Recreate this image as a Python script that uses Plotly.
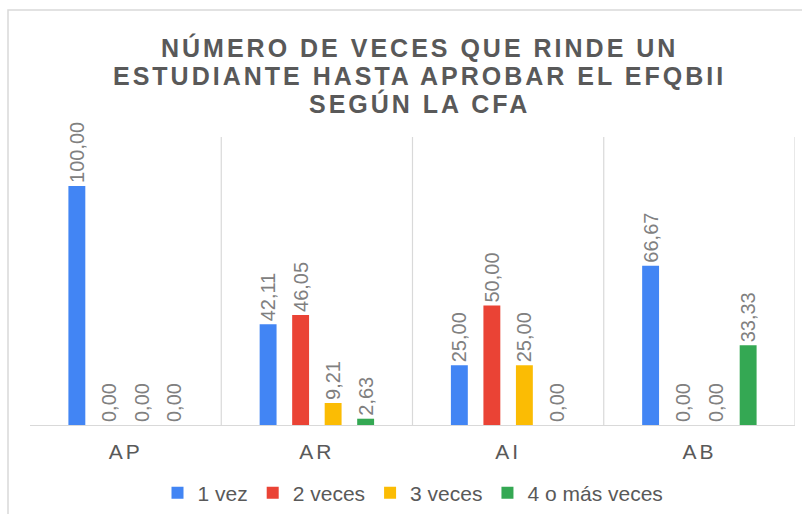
import plotly.graph_objects as go

categories = ["AP", "AR", "AI", "AB"]
series_names = ["1 vez", "2 veces", "3 veces", "4 o más veces"]
vals_1 = [100.00, 42.11, 25.00, 66.67]
vals_2 = [0.00, 46.05, 50.00, 0.00]
vals_3 = [0.00, 9.21, 25.00, 0.00]
vals_4 = [0.00, 2.63, 0.00, 33.33]
colors = ["#4285F4", "#EA4335", "#FBBC04", "#34A853"]
title_lines = ["NÚMERO DE VECES QUE RINDE UN", "ESTUDIANTE HASTA APROBAR EL EFQBII", "SEGÚN LA CFA"]

W, H = 802, 514
L, R, T, B = 30, 7, 137, 89
pw, ph = W - L - R, H - T - B
FONT = "Liberation Sans, Arial, sans-serif"

def px_x(x):
    return (x - L) / pw

def px_y(y):
    return (T + ph - y) / ph

fig = go.Figure()
for name, vals, col in zip(series_names, [vals_1, vals_2, vals_3, vals_4], colors):
    fig.add_trace(go.Bar(
        x=categories, y=vals, name=name, marker_color=col, marker_line_width=0,
        text=[f"{v:.2f}".replace(".", ",") for v in vals],
        textposition="outside", textangle=-90, constraintext="none",
        textfont=dict(family=FONT, size=20, color="#808080"),
        cliponaxis=False,
    ))

annotations = []
for line, ycen in zip(title_lines, [47, 76, 103]):
    annotations.append(dict(
        text=f'<span style="letter-spacing:3px">{line}</span>',
        xref="paper", yref="paper", x=px_x(419), y=px_y(ycen),
        xanchor="center", yanchor="middle", showarrow=False,
        font=dict(family=FONT, size=25, color="#595959", weight="bold"),
    ))

shapes = []
for xb in [0.5, 1.5, 2.5, 3.5]:
    shapes.append(dict(type="line", xref="x", yref="paper", x0=xb, x1=xb, y0=0, y1=1,
                       line=dict(color="#d9d9d9", width=1.2), layer="below"))
shapes.append(dict(type="rect", xref="paper", yref="paper",
                   x0=px_x(8), x1=px_x(840), y0=px_y(560), y1=px_y(10),
                   line=dict(color="#d9d9d9", width=1.5)))

fig.update_layout(
    width=W, height=H,
    margin=dict(l=L, r=R, t=T, b=B, autoexpand=False),
    paper_bgcolor="white", plot_bgcolor="white",
    separators=",.",
    barmode="group", bargap=0.32, bargroupgap=0.48,
    xaxis=dict(range=[-0.5, 3.5], showgrid=False, showline=True, linecolor="#d9d9d9", linewidth=1.2,
               ticks="outside", ticklen=8, tickcolor="rgba(0,0,0,0)", automargin=False,
               tickfont=dict(family=FONT, size=21, color="#595959"),
               tickvals=categories,
               ticktext=[f'<span style="letter-spacing:3px">{c}</span>' for c in categories]),
    yaxis=dict(range=[0, 120.5], showgrid=False, showticklabels=False, zeroline=False, showline=False,
               automargin=False),
    legend=dict(orientation="h", x=px_x(413), xanchor="center", y=px_y(493), yanchor="middle",
                font=dict(family=FONT, size=21, color="#595959"),
                itemwidth=30, traceorder="normal"),
    annotations=annotations,
    shapes=shapes,
    showlegend=True,
)

fig.write_html("out.html", config={"displayModeBar": False},
               post_script="document.body.style.margin='0';")
